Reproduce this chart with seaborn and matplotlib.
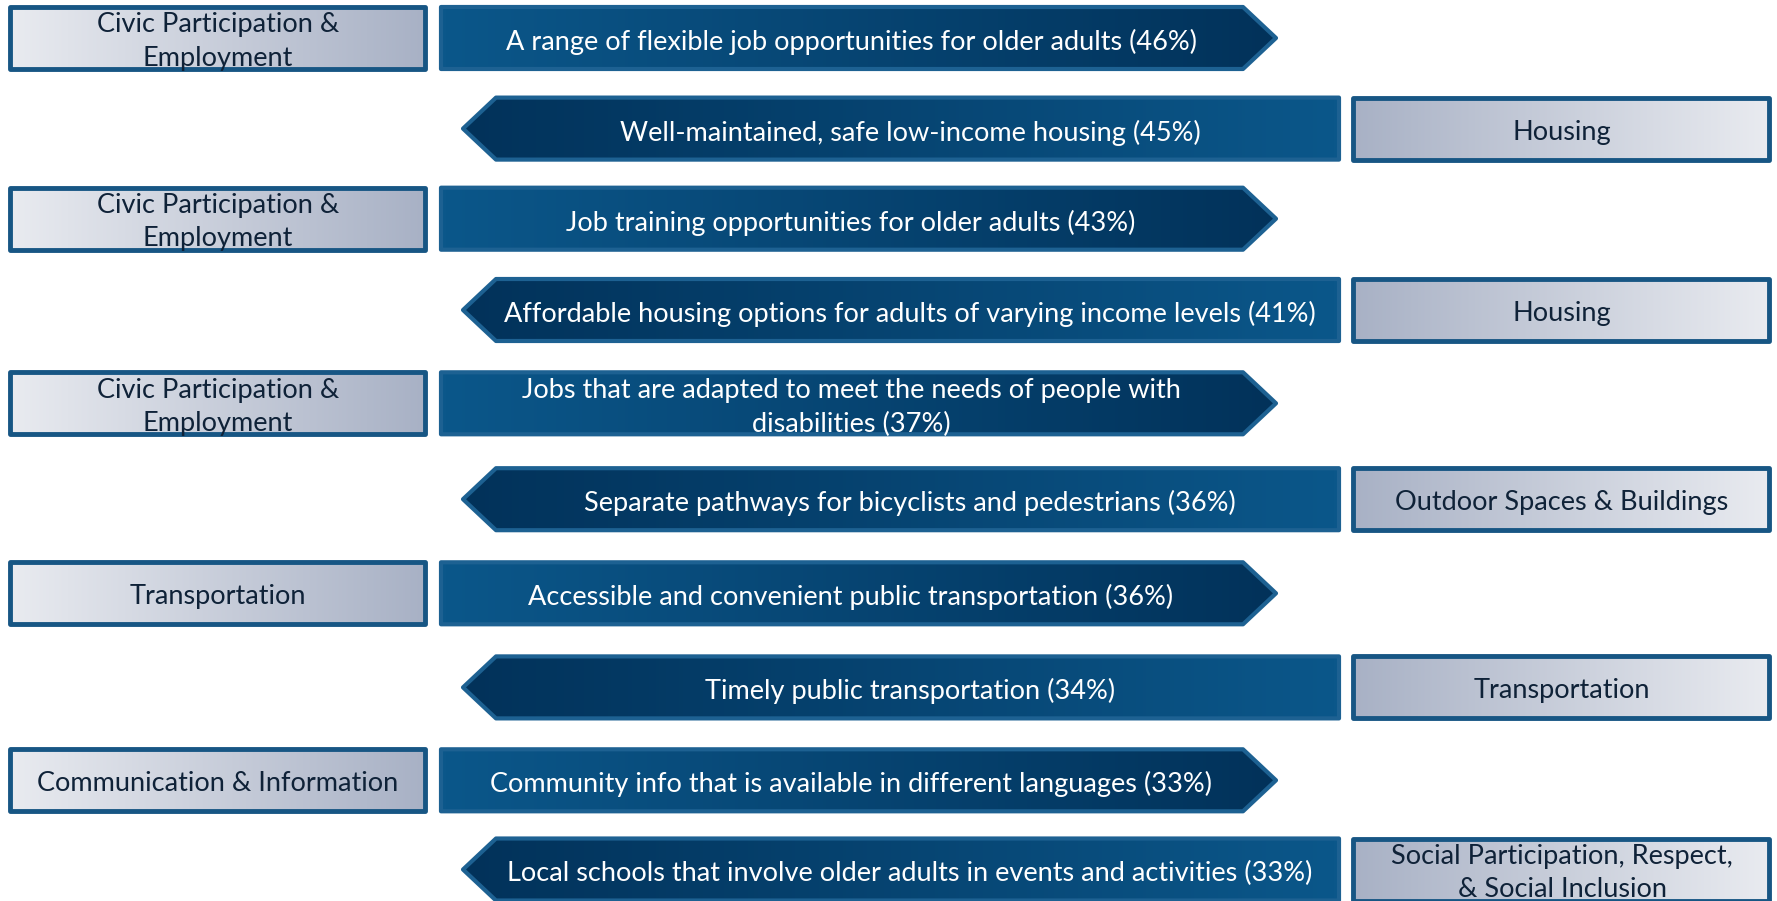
import numpy as np
import matplotlib.pyplot as plt
import seaborn as sns
from matplotlib.patches import Polygon
from matplotlib.colors import LinearSegmentedColormap

# top needs, ranked, with the age-friendly domain each belongs to
items = [
    "A range of flexible job opportunities for older adults",
    "Well-maintained, safe low-income housing",
    "Job training opportunities for older adults",
    "Affordable housing options for adults of varying income levels",
    "Jobs that are adapted to meet the needs of people with\ndisabilities",
    "Separate pathways for bicyclists and pedestrians",
    "Accessible and convenient public transportation",
    "Timely public transportation",
    "Community info that is available in different languages",
    "Local schools that involve older adults in events and activities",
]
pcts = [46, 45, 43, 41, 37, 36, 36, 34, 33, 33]
domains = [
    "Civic Participation &\nEmployment",
    "Housing",
    "Civic Participation &\nEmployment",
    "Housing",
    "Civic Participation &\nEmployment",
    "Outdoor Spaces & Buildings",
    "Transportation",
    "Transportation",
    "Communication & Information",
    "Social Participation, Respect,\n& Social Inclusion",
]

ARROW_LIGHT = "#0b578a"
ARROW_DARK = "#02325a"
ARROW_EDGE = "#1d6192"
BOX_LIGHT = "#e9ebf0"
BOX_DARK = "#a8b1c5"
BOX_EDGE = "#175684"
LABEL_TEXT = "#0f2238"

sns.set_theme(style="white")
plt.rcParams['font.family'] = ['Lato', 'DejaVu Sans']

W, H = 1777, 901
fig = plt.figure(figsize=(W / 100, H / 100), dpi=100)
ax = fig.add_axes([0, 0, 1, 1])


def shape(ax, verts, c_left, c_right, edge, lw):
    poly = Polygon(verts, closed=True, facecolor="none", edgecolor=edge,
                   lw=lw, joinstyle="round", zorder=3)
    ax.add_patch(poly)
    xs = [v[0] for v in verts]
    ys = [v[1] for v in verts]
    cmap = LinearSegmentedColormap.from_list("g", [c_left, c_right])
    im = ax.imshow(np.linspace(0, 1, 256)[None, :], cmap=cmap, aspect="auto",
                   extent=(min(xs), max(xs), max(ys), min(ys)),
                   interpolation="bilinear", zorder=2)
    im.set_clip_path(poly)


# vertical centres of the rows (pixels from the top)
row_centers = [38, 128.6, 218.7, 310, 403.3, 499.2, 593.3, 687.4, 780.3, 869.5]
half = 31
fs = 19.5
ls = 1.42

for i, (item, pct, dom) in enumerate(zip(items, pcts, domains)):
    yc = row_centers[i]
    top, bot = yc - half, yc + half
    label = f"{item} ({pct}%)"
    if i % 2 == 0:
        # label box on the left, arrow pointing right
        shape(ax, [(10, top), (425, top), (425, bot), (10, bot)],
              BOX_LIGHT, BOX_DARK, BOX_EDGE, 3.5)
        ax.text(218, yc + 3.5, dom, ha="center", va="center", fontsize=fs,
                color=LABEL_TEXT, linespacing=ls, zorder=4)
        shape(ax, [(441, top), (1243, top), (1276, yc), (1243, bot), (441, bot)],
              ARROW_LIGHT, ARROW_DARK, ARROW_EDGE, 3)
        ax.text(851, yc + 4, label, ha="center", va="center", fontsize=fs,
                color="white", linespacing=ls, zorder=4)
    else:
        # arrow pointing left, label box on the right
        shape(ax, [(463, yc), (496, top), (1339, top), (1339, bot), (496, bot)],
              ARROW_DARK, ARROW_LIGHT, ARROW_EDGE, 3)
        ax.text(910, yc + 4, label, ha="center", va="center", fontsize=fs,
                color="white", linespacing=ls, zorder=4)
        shape(ax, [(1353, top), (1769, top), (1769, bot), (1353, bot)],
              BOX_DARK, BOX_LIGHT, BOX_EDGE, 3.5)
        ax.text(1562, yc + 3.5, dom, ha="center", va="center", fontsize=fs,
                color=LABEL_TEXT, linespacing=ls, zorder=4)

ax.set_xlim(0, W)
ax.set_ylim(H, 0)
ax.axis("off")
fig.savefig("out.png", dpi=100, facecolor="white")
